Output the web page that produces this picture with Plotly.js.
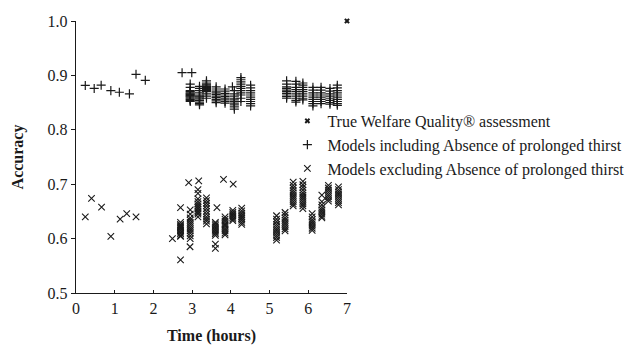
<!DOCTYPE html>
<html>
<head>
<meta charset="utf-8">
<script src="https://cdn.plot.ly/plotly-3.0.1.min.js"></script>
<style>html,body{margin:0;padding:0;background:#fff;}#chart{width:632px;height:345px;}</style>
</head>
<body>
<div id="chart"></div>
<script>
// Series names
const seriesNames = ["True Welfare Quality® assessment", "Models including Absence of prolonged thirst", "Models excluding Absence of prolonged thirst"];

// True assessment
const trueX = [7];
const trueY = [1.0];

// Models including: individual points
const incSingleX = [0.24, 0.47, 0.65, 0.90, 1.12, 1.38, 1.55, 1.79, 2.74, 2.99, 4.04];
const incSingleY = [0.8815, 0.876, 0.882, 0.872, 0.869, 0.866, 0.902, 0.891, 0.905, 0.905, 0.879];
// Models including: clustered columns
const incClusterTimes = [2.95, 3.19, 3.37, 3.62, 3.85, 4.09, 4.26, 4.51, 5.44, 5.68, 5.86, 6.12, 6.33, 6.56, 6.75];
const incClusterValues = [
  [0.884, 0.878, 0.872, 0.870, 0.868, 0.866, 0.865, 0.863, 0.862, 0.860, 0.858, 0.856, 0.854, 0.852],
  [0.880, 0.876, 0.872, 0.868, 0.864, 0.862, 0.860, 0.857, 0.854, 0.851, 0.848, 0.846],
  [0.890, 0.886, 0.884, 0.882, 0.880, 0.878, 0.876, 0.874, 0.872, 0.870, 0.866, 0.862, 0.858],
  [0.879, 0.875, 0.871, 0.868, 0.865, 0.862, 0.859, 0.856, 0.853, 0.850],
  [0.875, 0.871, 0.867, 0.864, 0.861, 0.858, 0.855, 0.852, 0.849],
  [0.872, 0.866, 0.862, 0.858, 0.855, 0.852, 0.849, 0.846, 0.842, 0.838],
  [0.896, 0.892, 0.888, 0.884, 0.880, 0.876, 0.872, 0.868, 0.864, 0.858, 0.852],
  [0.882, 0.877, 0.872, 0.868, 0.864, 0.860, 0.856, 0.852, 0.848, 0.844],
  [0.890, 0.884, 0.879, 0.876, 0.873, 0.870, 0.867, 0.864, 0.861, 0.858],
  [0.889, 0.884, 0.878, 0.874, 0.870, 0.866, 0.862, 0.858, 0.854, 0.851],
  [0.886, 0.882, 0.878, 0.874, 0.870, 0.866, 0.862, 0.858, 0.855],
  [0.878, 0.873, 0.868, 0.864, 0.860, 0.856, 0.852, 0.848, 0.844],
  [0.878, 0.873, 0.868, 0.864, 0.860, 0.856, 0.852, 0.848],
  [0.876, 0.871, 0.866, 0.862, 0.858, 0.854, 0.850, 0.847],
  [0.882, 0.877, 0.872, 0.868, 0.864, 0.860, 0.856, 0.852, 0.848, 0.845]
];

// Models excluding: individual points
const excSingleX = [0.24, 0.40, 0.66, 0.90, 1.14, 1.31, 1.55, 2.49, 2.70, 2.70, 2.91, 3.17, 2.945, 3.64, 3.81, 4.06, 3.60, 3.60, 6.35];
const excSingleY = [0.640, 0.674, 0.658, 0.604, 0.636, 0.646, 0.640, 0.600, 0.561, 0.657, 0.703, 0.706, 0.585, 0.657, 0.709, 0.700, 0.590, 0.582, 0.680];
// Models excluding: clustered columns
const excClusterTimes = [2.70, 2.95, 3.15, 3.37, 3.60, 3.85, 4.05, 4.28, 5.18, 5.40, 5.61, 5.86, 6.10, 6.35, 6.52, 6.78];
const excClusterValues = [
  [0.630, 0.626, 0.624, 0.622, 0.620, 0.618, 0.615, 0.612, 0.609, 0.606, 0.604],
  [0.653, 0.645, 0.638, 0.634, 0.630, 0.626, 0.622, 0.618, 0.614, 0.610, 0.605, 0.600],
  [0.690, 0.683, 0.673, 0.668, 0.664, 0.660, 0.657, 0.654, 0.651, 0.648, 0.645, 0.640],
  [0.675, 0.670, 0.665, 0.660, 0.655, 0.650, 0.645, 0.640, 0.636, 0.632, 0.627],
  [0.630, 0.627, 0.624, 0.621, 0.618, 0.615, 0.612, 0.609, 0.606],
  [0.640, 0.636, 0.632, 0.628, 0.625, 0.622, 0.618, 0.614, 0.610, 0.607],
  [0.652, 0.648, 0.645, 0.642, 0.639, 0.636, 0.633],
  [0.656, 0.651, 0.647, 0.643, 0.640, 0.637, 0.634, 0.630, 0.626],
  [0.642, 0.636, 0.631, 0.626, 0.622, 0.618, 0.614, 0.610, 0.606, 0.602, 0.597],
  [0.648, 0.643, 0.638, 0.634, 0.630, 0.626, 0.622, 0.618, 0.614],
  [0.704, 0.698, 0.693, 0.688, 0.684, 0.680, 0.676, 0.672, 0.668, 0.664, 0.660],
  [0.705, 0.699, 0.694, 0.689, 0.684, 0.680, 0.676, 0.672, 0.668, 0.664, 0.660, 0.655],
  [0.646, 0.640, 0.635, 0.631, 0.627, 0.623, 0.619, 0.615],
  [0.668, 0.662, 0.657, 0.653, 0.649, 0.645, 0.641, 0.638],
  [0.698, 0.693, 0.689, 0.685, 0.681, 0.677, 0.673, 0.669],
  [0.695, 0.690, 0.686, 0.682, 0.678, 0.674, 0.670, 0.666, 0.662]
];

const xTicks = [0, 1, 2, 3, 4, 5, 6, 7];
const yTicks = [0.5, 0.6, 0.7, 0.8, 0.9, 1.0];
const yTickText = ["0.5", "0.6", "0.7", "0.8", "0.9", "1.0"];

function flatten(singleX, singleY, times, values) {
  const xs = singleX.slice(), ys = singleY.slice();
  times.forEach((t, i) => values[i].forEach(v => { xs.push(t); ys.push(v); }));
  return [xs, ys];
}
const [incX, incY] = flatten(incSingleX, incSingleY, incClusterTimes, incClusterValues);
const [excX, excY] = flatten(excSingleX, excSingleY, excClusterTimes, excClusterValues);

const ink = '#1a1a1a';
const serif = 'Liberation Serif, Times New Roman, serif';

const traces = [
  { x: trueX, y: trueY, name: seriesNames[0], type: 'scatter', mode: 'markers', cliponaxis: false,
    marker: { symbol: 'x', size: 5, color: ink, line: { width: 0 } } },
  { x: incX, y: incY, name: seriesNames[1], type: 'scatter', mode: 'markers',
    marker: { symbol: 'cross-thin-open', size: 6.5, color: ink, line: { width: 1.2, color: ink } } },
  { x: excX, y: excY, name: seriesNames[2], type: 'scatter', mode: 'markers',
    marker: { symbol: 'x-thin-open', size: 6.5, color: ink, line: { width: 1.1, color: ink } } }
];

const layout = {
  width: 632, height: 345,
  margin: { l: 76, r: 285, t: 21, b: 52, pad: 0, autoexpand: false },
  paper_bgcolor: '#fff', plot_bgcolor: '#fff',
  font: { family: serif, size: 16, color: ink },
  showlegend: true,
  legend: { x: 0.78, y: 0.695, xanchor: 'left', yanchor: 'top', bgcolor: 'rgba(0,0,0,0)',
    font: { family: serif, size: 16, color: ink }, itemwidth: 30, tracegroupgap: 0 },
  xaxis: { range: [0, 7], tickvals: xTicks, ticktext: xTicks.map(String), showgrid: false, zeroline: false,
    showline: true, linecolor: ink, linewidth: 1.3, ticks: 'inside', ticklen: 3, tickcolor: ink,
    tickfont: { family: serif, size: 16, color: ink },
    title: { text: '<b>Time (hours)</b>', font: { family: serif, size: 16, color: ink }, standoff: 17 } },
  yaxis: { range: [0.5, 1.0], tickvals: yTicks, ticktext: yTickText, showgrid: false, zeroline: false,
    showline: true, linecolor: ink, linewidth: 1.3, ticks: 'outside', ticklen: 4, tickcolor: ink,
    tickfont: { family: serif, size: 16, color: ink },
    title: { text: '<b>Accuracy</b>', font: { family: serif, size: 16, color: ink }, standoff: 20 } }
};

Plotly.newPlot('chart', traces, layout, { staticPlot: true, displayModeBar: false });
</script>
</body>
</html>
